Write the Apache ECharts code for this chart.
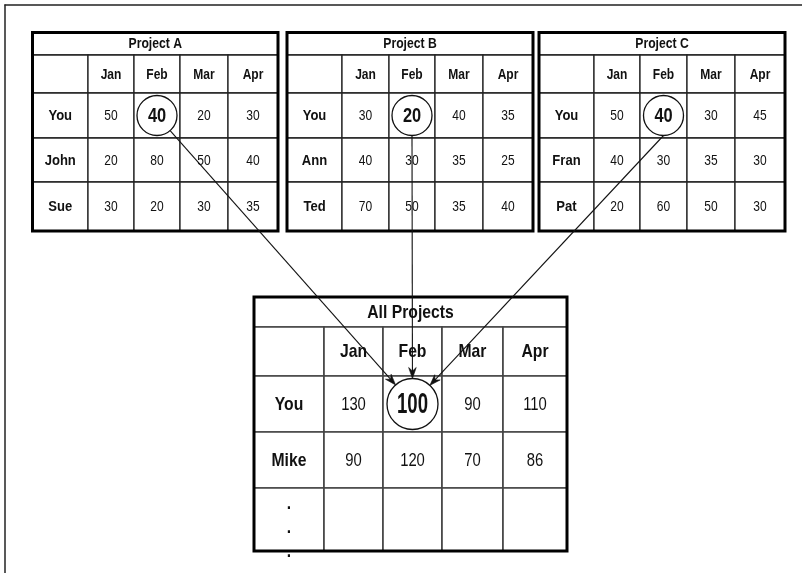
<!DOCTYPE html>
<html><head><meta charset="utf-8">
<script src="https://cdn.jsdelivr.net/npm/echarts@6/dist/echarts.min.js"></script>
<style>html,body{margin:0;padding:0;background:#fff}#c{width:802px;height:573px}</style>
</head><body><div id="c"></div>
<script>
// ---------------- data ----------------
const months = ['Jan', 'Feb', 'Mar', 'Apr'];
const titles = ['Project A', 'Project B', 'Project C', 'All Projects'];
const peopleA = ['You', 'John', 'Sue'];
const valuesA = [[50, 40, 20, 30], [20, 80, 50, 40], [30, 20, 30, 35]];
const peopleB = ['You', 'Ann', 'Ted'];
const valuesB = [[30, 20, 40, 35], [40, 30, 35, 25], [70, 50, 35, 40]];
const peopleC = ['You', 'Fran', 'Pat'];
const valuesC = [[50, 40, 30, 45], [40, 30, 35, 30], [20, 60, 50, 30]];
const peopleAll = ['You', 'Mike', '...'];
const valuesAll = [[130, 100, 90, 110], [90, 120, 70, 86], ['', '', '', '']];
const highlightPerson = 'You';
const highlightMonth = 'Feb';

// ---------------- layout (positions / styles) ----------------
const FONT = "'Liberation Sans', Arial, sans-serif";
// [fontSize, weight, scaleX]
const small = { title: [14.5, 'bold', 0.84], head: [14.5, 'bold', 0.83], label: [14.5, 'bold', 0.9], val: [14.5, 'normal', 0.83], hi: [20.5, 'bold', 0.8] };
const big = { title: [18.5, 'bold', 0.85], head: [18.5, 'bold', 0.85], label: [18.5, 'bold', 0.85], val: [19, 'normal', 0.78], hi: [30, 'bold', 0.62] };
const smallY = [32.5, 55, 93, 138, 182, 231];
const layouts = [
  { x: [32.5, 88, 134, 180, 228, 278], y: smallY, f: small, r: 20, startAngle: 49 },
  { x: [287, 342, 389, 435, 483, 533], y: smallY, f: small, r: 20, startAngle: 90 },
  { x: [539, 594, 640, 687, 735, 785], y: smallY, f: small, r: 20, startAngle: 90 },
  { x: [254, 324, 383, 442, 503, 567], y: [297, 327, 376, 432, 488, 551], f: big, r: 25.5 }
];
const tables = [
  { people: peopleA, values: valuesA },
  { people: peopleB, values: valuesB },
  { people: peopleC, values: valuesC },
  { people: peopleAll, values: valuesAll }
];

function buildCells(t) {
  const T = tables[t];
  const cells = [{ r0: 0, r1: 1, c0: 0, c1: 5, text: titles[t], kind: 'title' }];
  cells.push({ r0: 1, r1: 2, c0: 0, c1: 1, text: '', kind: 'head' });
  months.forEach((m, j) => cells.push({ r0: 1, r1: 2, c0: j + 1, c1: j + 2, text: m, kind: 'head' }));
  T.people.forEach((p, i) => {
    cells.push({ r0: i + 2, r1: i + 3, c0: 0, c1: 1, text: p, kind: p === '...' ? 'dots' : 'label' });
    months.forEach((m, j) => {
      const hi = (p === highlightPerson && m === highlightMonth);
      cells.push({ r0: i + 2, r1: i + 3, c0: j + 1, c1: j + 2, text: hi ? '' : String(T.values[i][j]), kind: 'val' });
    });
  });
  return cells;
}

function textEl(x, y, text, spec, valign) {
  return {
    type: 'text', x: x, y: y, scaleX: spec[2], scaleY: 1,
    style: { text: text, fontFamily: FONT, fontSize: spec[0], fontWeight: spec[1], fill: '#111', align: 'center', verticalAlign: valign || 'middle' }
  };
}

const series = [];
tables.forEach((T, t) => {
  const L = layouts[t];
  const cells = buildCells(t);
  // cells
  series.push({
    type: 'custom', coordinateSystem: 'cartesian2d', z: 2, silent: true,
    data: cells.map((c, i) => [i]),
    renderItem: function (params, api) {
      const c = cells[params.dataIndex];
      const p0 = api.coord([L.x[c.c0], L.y[c.r0]]);
      const p1 = api.coord([L.x[c.c1], L.y[c.r1]]);
      const ch = [{ type: 'rect', shape: { x: p0[0], y: p0[1], width: p1[0] - p0[0], height: p1[1] - p0[1] },
        style: { fill: '#fff', stroke: t === 3 ? '#444' : '#222', lineWidth: t === 3 ? 1.6 : 1.3 } }];
      const cx = (p0[0] + p1[0]) / 2, cy = (p0[1] + p1[1]) / 2;
      if (c.kind === 'dots') {
        [20, 44, 68].forEach(off => ch.push(textEl(cx, p0[1] + off + 5, '.', L.f.label, 'bottom')));
      } else if (c.text !== '') {
        ch.push(textEl(cx, cy + 0.5, c.text, L.f[c.kind]));
      }
      return { type: 'group', children: ch };
    }
  });
  // outer border
  series.push({
    type: 'custom', coordinateSystem: 'cartesian2d', z: 4, silent: true,
    data: [[t]],
    renderItem: function (params, api) {
      const p0 = api.coord([L.x[0], L.y[0]]);
      const p1 = api.coord([L.x[5], L.y[5]]);
      return { type: 'rect', shape: { x: p0[0], y: p0[1], width: p1[0] - p0[0], height: p1[1] - p0[1] },
        style: { fill: 'none', stroke: '#000', lineWidth: 3 } };
    }
  });
  // highlighted circle + value
  const ri = T.people.indexOf(highlightPerson), ci = months.indexOf(highlightMonth);
  series.push({
    type: 'custom', coordinateSystem: 'cartesian2d', z: 3, silent: true,
    data: [[ci, ri, T.values[ri][ci]]],
    renderItem: function (params, api) {
      const col = api.value(0) + 1, row = api.value(1) + 2;
      const p0 = api.coord([L.x[col], L.y[row]]);
      const p1 = api.coord([L.x[col + 1], L.y[row + 1]]);
      const cx = (p0[0] + p1[0]) / 2, cy = (p0[1] + p1[1]) / 2;
      return { type: 'group', children: [
        { type: 'circle', shape: { cx: cx, cy: cy, r: L.r }, style: { fill: '#fff', stroke: '#111', lineWidth: 1.3 } },
        textEl(cx, cy + 0.5, String(api.value(2)), L.f.hi)
      ] };
    }
  });
});

// arrows from each project highlight to the All Projects highlight
function hiCenter(t, api) {
  const L = layouts[t];
  const col = months.indexOf(highlightMonth) + 1, row = tables[t].people.indexOf(highlightPerson) + 2;
  const p0 = api.coord([L.x[col], L.y[row]]);
  const p1 = api.coord([L.x[col + 1], L.y[row + 1]]);
  return [(p0[0] + p1[0]) / 2, (p0[1] + p1[1]) / 2];
}
series.push({
  type: 'custom', coordinateSystem: 'cartesian2d', z: 5, silent: true,
  data: [[0], [1], [2]],
  renderItem: function (params, api) {
    const t = api.value(0);
    const s = hiCenter(t, api), e = hiCenter(3, api);
    const a = layouts[t].startAngle * Math.PI / 180;
    const sx = s[0] + layouts[t].r * Math.cos(a), sy = s[1] + layouts[t].r * Math.sin(a);
    let dx = e[0] - sx, dy = e[1] - sy; const d = Math.hypot(dx, dy); dx /= d; dy /= d;
    const R = layouts[3].r;
    const ex = e[0] - R * dx, ey = e[1] - R * dy;
    const len = 11, w = 3.8, notch = 7.5;
    const nx = -dy, ny = dx;
    const head = [[ex, ey], [ex - len * dx + w * nx, ey - len * dy + w * ny], [ex - notch * dx, ey - notch * dy], [ex - len * dx - w * nx, ey - len * dy - w * ny]];
    return { type: 'group', children: [
      { type: 'line', shape: { x1: sx, y1: sy, x2: ex - 4 * dx, y2: ey - 4 * dy }, style: { stroke: '#111', lineWidth: 1.1 } },
      { type: 'polygon', shape: { points: head }, style: { fill: '#111', stroke: '#111', lineWidth: 0.6 } }
    ] };
  }
});

const chart = echarts.init(document.getElementById('c'), null, { renderer: 'canvas' });
chart.setOption({
  animation: false,
  backgroundColor: '#fff',
  grid: { left: 5, top: 5, right: 0, bottom: 0 },
  xAxis: { type: 'value', min: 5, max: 802, position: 'top',
    axisLine: { show: true, onZero: false, lineStyle: { color: '#222', width: 1.5 } },
    axisTick: { show: false }, axisLabel: { show: false }, splitLine: { show: false } },
  yAxis: { type: 'value', min: 5, max: 573, inverse: true, position: 'left',
    axisLine: { show: true, onZero: false, lineStyle: { color: '#222', width: 1.5 } },
    axisTick: { show: false }, axisLabel: { show: false }, splitLine: { show: false } },
  series: series
});
</script></body></html>
